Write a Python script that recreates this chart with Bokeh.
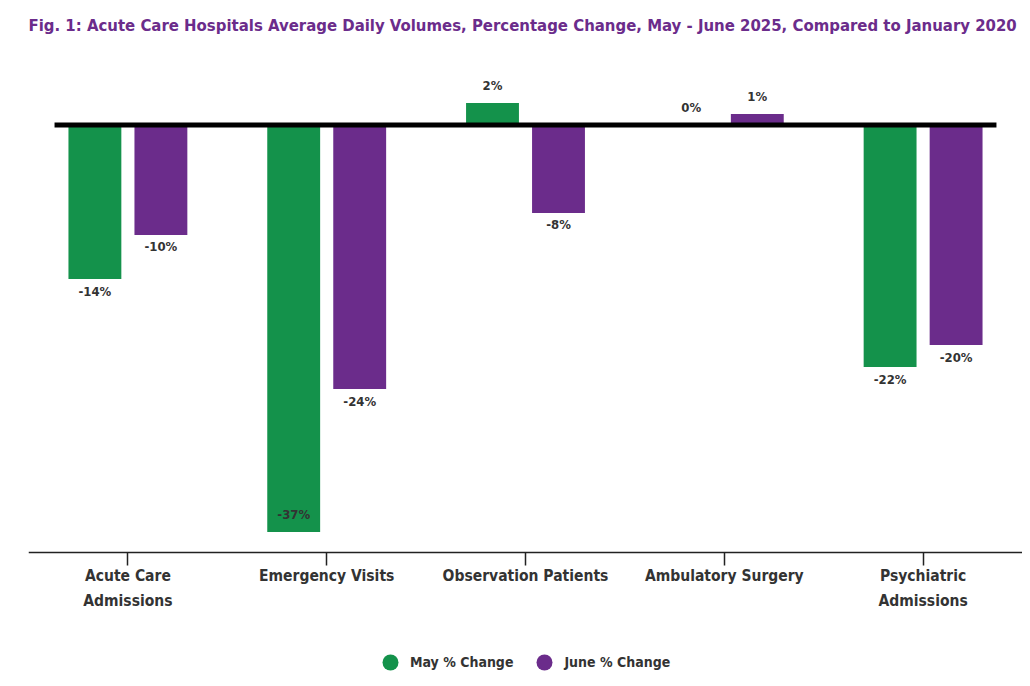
from bokeh.plotting import figure
from bokeh.models import Range1d, FixedTicker, ColumnDataSource, Legend, LegendItem
from bokeh.core.properties import value
from bokeh.embed import file_html
from bokeh.resources import INLINE
import numpy as np

categories = ["Acute Care\nAdmissions", "Emergency Visits", "Observation Patients",
              "Ambulatory Surgery", "Psychiatric\nAdmissions"]
may_change = [-14, -37, 2, 0, -22]
june_change = [-10, -24, -8, 1, -20]
series_names = ["May % Change", "June % Change"]

GREEN = "#14924b"
PURPLE = "#6b2c8b"
TEXT = "#333333"
FONT = "DejaVu Sans Condensed"

n = len(categories)
centers = np.arange(n) + 0.5
offset = 0.166
bar_w = 0.266
axis_at = -38.86          # where the category axis sits
y_lo, y_hi = -50.86, 7.68  # frame extends below the axis to hold the legend

p = figure(frame_width=994, frame_height=644, output_backend="svg", toolbar_location=None,
           x_range=Range1d(0, n), y_range=Range1d(y_lo, y_hi),
           min_border_left=28, min_border_right=0, min_border_top=40,
           min_border_bottom=0)
p.outline_line_color = None
p.grid.visible = False
p.yaxis.visible = False

p.title.text = "Fig. 1: Acute Care Hospitals Average Daily Volumes, Percentage Change, May - June 2025, Compared to January 2020"
p.title.text_font = FONT
p.title.text_font_style = "bold"
p.title.text_font_size = "16.6px"
p.title.text_color = PURPLE
p.title.align = "left"
p.title.offset = 0
p.title.vertical_align = "top"
p.title.standoff = 8

ax = p.xaxis[0]
ax.fixed_location = axis_at
ax.ticker = FixedTicker(ticks=list(centers))
ax.major_label_overrides = {float(c): lab for c, lab in zip(centers, categories)}
ax.major_label_text_font = FONT
ax.major_label_text_font_style = "bold"
ax.major_label_text_font_size = "15.5px"
ax.major_label_text_line_height = 1.35
ax.major_label_text_color = TEXT
ax.major_label_standoff = 2
ax.major_tick_out = 13
ax.major_tick_in = 0
ax.minor_tick_out = 0
ax.minor_tick_in = 0
ax.axis_line_color = "#222222"
ax.axis_line_width = 1.5
ax.major_tick_line_color = "#222222"
ax.major_tick_line_width = 1.5

def label_offsets(vals):
    offs = []
    for v in vals:
        if v >= 0:
            offs.append(-17)
        elif v - 2.6 < axis_at:
            offs.append(-18)
        else:
            offs.append(12)
    return offs

renderers = []
for vals, sign, color in [(may_change, -1, GREEN), (june_change, 1, PURPLE)]:
    xs = centers + sign * offset
    src = ColumnDataSource(dict(x=xs, top=vals,
                                lab=[f"{v}%" for v in vals],
                                yo=label_offsets(vals)))
    p.vbar(x="x", top="top", bottom=0, width=bar_w, source=src,
           fill_color=color, line_color=None)
    p.text(x="x", y="top", text="lab", y_offset="yo", source=src,
           text_align="center", text_baseline="middle",
           text_font=value(FONT), text_font_style="bold",
           text_font_size="13px", text_color=TEXT)
    # zero-size markers at the bars: only give the legend its round icons
    renderers.append(p.scatter(x="x", y="top", source=src, marker="circle", size=0,
                               fill_color=color, line_color=None))

pad = 0.07
p.segment(x0=[centers[0] - offset - bar_w / 2 - pad], y0=[0],
          x1=[centers[-1] + offset + bar_w / 2 + pad], y1=[0],
          line_color="black", line_width=5)

legend = Legend(items=[LegendItem(label=series_names[0], renderers=[renderers[0]], index=0),
                       LegendItem(label=series_names[1], renderers=[renderers[1]], index=0)],
                orientation="horizontal", location=(342, 2))
legend.label_text_font = FONT
legend.label_text_font_style = "bold"
legend.label_text_font_size = "14px"
legend.label_text_color = TEXT
legend.border_line_color = None
legend.background_fill_alpha = 0
legend.glyph_width = 40
legend.glyph_height = 40
legend.label_standoff = 0
legend.spacing = 11
legend.padding = 0
legend.margin = 0
p.add_layout(legend, "center")

open("out.html", "w").write(file_html(p, INLINE))
